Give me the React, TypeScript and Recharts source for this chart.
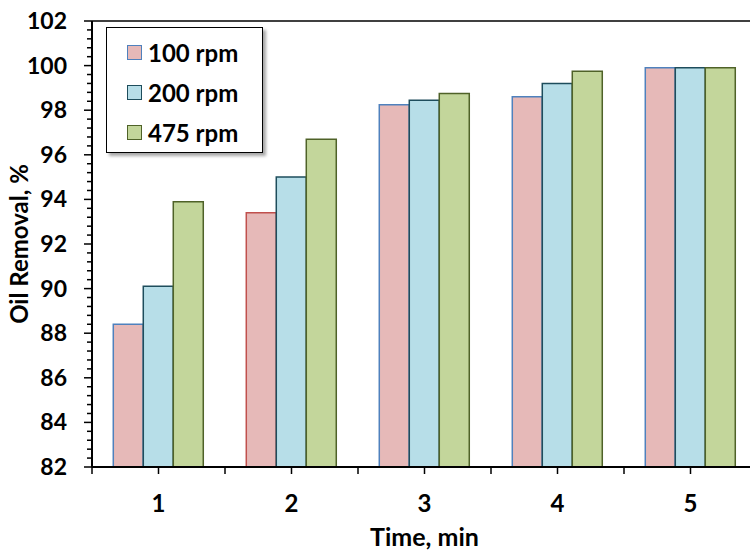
import { Bar, BarChart, Cell, ReferenceLine, XAxis, YAxis } from 'recharts';

const times = ['1', '2', '3', '4', '5'];
const rpm100 = [88.4, 93.4, 98.25, 98.6, 99.9];
const rpm200 = [90.1, 95.0, 98.45, 99.2, 99.9];
const rpm475 = [93.9, 96.7, 98.75, 99.75, 99.9];
const pinkStrokes = ['#4F81BD', '#C0504D', '#4F81BD', '#4F81BD', '#4F81BD'];

const yTicks = Array.from({ length: 51 }, (_, i) => +(82 + i * 0.4).toFixed(1));

const series = [
  { key: 'r100', label: '100 rpm', fill: '#E6B9B8', stroke: '#4F81BD' },
  { key: 'r200', label: '200 rpm', fill: '#B7DEE8', stroke: '#1E4D5C' },
  { key: 'r475', label: '475 rpm', fill: '#C3D69B', stroke: '#4F6228' },
];

const data = times.map((t, i) => ({ time: t, r100: rpm100[i], r200: rpm200[i], r475: rpm475[i] }));

const FONT = 'Lato, "Open Sans", sans-serif';

function YTick(props: any) {
  const { x, y, payload } = props;
  const v = payload.value as number;
  const major = Math.abs(v - Math.round(v)) < 1e-6 && Math.round(v) % 2 === 0;
  return (
    <g>
      <line x1={x - (major ? 8 : 5)} x2={x} y1={y} y2={y} stroke="#000" strokeWidth={1.5} />
      {major && (
        <text x={x - 25} y={y} dy={8} textAnchor="end" fontSize={23} fontWeight={700} fontFamily={FONT} fill="#000">
          {v}
        </text>
      )}
    </g>
  );
}

function XTick(props: any) {
  const { x, y, payload } = props;
  const half = payload.offset || 66.5;
  return (
    <g>
      <line x1={x} x2={x} y1={y} y2={y + 7} stroke="#000" strokeWidth={1.5} />
      <line x1={x - half} x2={x - half} y1={y} y2={y + 7} stroke="#000" strokeWidth={1.5} />
      <text x={x} y={y + 45} textAnchor="middle" fontSize={24} fontWeight={700} fontFamily={FONT} fill="#000">
        {payload.value}
      </text>
    </g>
  );
}

export default function App() {
  return (
    <div style={{ position: 'fixed', left: 0, top: 0, width: 750, height: 553, overflow: 'hidden', background: '#fff' }}>
      <BarChart
        width={780}
        height={553}
        data={data}
        margin={{ top: 21, right: 23, bottom: 26, left: 32 }}
        barCategoryGap="16%"
        barGap={0}
      >
        <XAxis
          dataKey="time"
          height={60}
          interval={0}
          tickSize={0}
          tickMargin={0}
          tick={<XTick />}
          axisLine={{ stroke: '#000', strokeWidth: 2 }}
          label={{
            value: 'Time, min',
            position: 'insideBottom',
            offset: -19,
            style: { fontSize: 25, fontWeight: 700, fontFamily: FONT, fill: '#000' },
          }}
        />
        <YAxis
          width={60}
          domain={[82, 102]}
          ticks={yTicks}
          interval={0}
          allowDataOverflow
          tickSize={0}
          tickMargin={0}
          tick={<YTick />}
          axisLine={{ stroke: '#000', strokeWidth: 2 }}
          label={{
            value: 'Oil Removal, %',
            angle: -90,
            position: 'insideLeft',
            offset: -13,
            style: { textAnchor: 'middle', fontSize: 24, fontWeight: 700, fontFamily: FONT, fill: '#000' },
          }}
        />
        <ReferenceLine y={102} stroke="#000" strokeWidth={1.5} />
        {series.map((s) => (
          <Bar key={s.key} dataKey={s.key} fill={s.fill} stroke={s.stroke} strokeWidth={1.5} isAnimationActive={false}>
            {s.key === 'r100' && times.map((t, i) => <Cell key={t} fill={s.fill} stroke={pinkStrokes[i]} />)}
          </Bar>
        ))}
      </BarChart>
      <div
        style={{
          position: 'absolute',
          left: 106,
          top: 27,
          width: 157,
          height: 126,
          border: '1.5px solid #000',
          background: '#fff',
          boxShadow: '3px 3px 3px rgba(0,0,0,0.35)',
          fontFamily: FONT,
          fontWeight: 700,
          fontSize: 24,
          color: '#000',
          boxSizing: 'border-box',
          paddingTop: 4,
        }}
      >
        {series.map((s) => (
          <div key={s.key} style={{ display: 'flex', alignItems: 'center', height: 40, paddingLeft: 20 }}>
            <span
              style={{
                display: 'inline-block',
                width: 13,
                height: 13,
                background: s.fill,
                border: `1.5px solid ${s.stroke}`,
                marginRight: 6,
              }}
            />
            <span>{s.label}</span>
          </div>
        ))}
      </div>
    </div>
  );
}
